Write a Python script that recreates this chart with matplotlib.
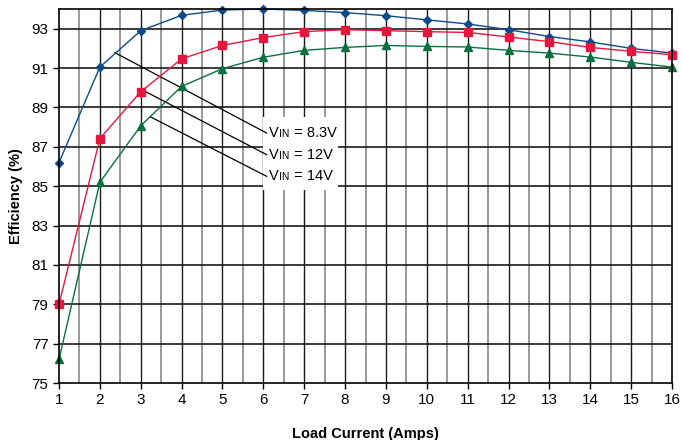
import numpy as np
from matplotlib import pyplot as plt
from matplotlib.patches import Rectangle
from matplotlib.offsetbox import TextArea, HPacker, AnnotationBbox

plt.rcParams['font.family'] = ['Liberation Sans Narrow', 'Liberation Sans', 'DejaVu Sans']

load_current = np.arange(1, 17)
eff_8v3 = [86.2, 91.05, 92.9, 93.68, 93.95, 94.0, 93.93, 93.82, 93.66, 93.45,
           93.24, 92.95, 92.6, 92.33, 92.0, 91.76]
eff_12v = [79.0, 87.42, 89.8, 91.47, 92.15, 92.55, 92.85, 92.95, 92.9, 92.85,
           92.81, 92.58, 92.34, 92.05, 91.85, 91.68]
eff_14v = [76.2, 85.2, 88.07, 90.07, 90.97, 91.55, 91.9, 92.05, 92.15, 92.1,
           92.07, 91.9, 91.76, 91.56, 91.29, 91.05]

series = [
    (eff_8v3, '#0d4a8a', 'D', 4.5, '8.3V'),
    (eff_12v, '#e5173f', 's', 5.5, '12V'),
    (eff_14v, '#0b7040', '^', 6, '14V'),
]

# leader lines: start on the curve, end at the label
leader_start = [(2.37, 91.78), (3.03, 89.9), (3.23, 88.53)]
leader_end = [(6.08, 87.7), (6.08, 86.6), (6.08, 85.5)]

fig = plt.figure(figsize=(6.83, 4.40), dpi=100)
ax = fig.add_axes([0.0864, 0.1295, 0.8976, 0.85])

# grid
for xv in np.arange(1.5, 16, 1.0):
    ax.axvline(xv, color='#9a9a9a', lw=1.4, zorder=1)
for xv in np.arange(2, 16):
    ax.axvline(xv, color='#1a1a1a', lw=1.0, zorder=1)
for yv in np.arange(77, 94, 2):
    ax.axhline(yv, color='#1a1a1a', lw=1.2, zorder=1)

for vals, col, mk, ms, name in series:
    ax.plot(load_current, vals, color=col, lw=1.0, marker=mk, ms=ms,
            zorder=3, clip_on=False)

# white patch behind the labels
ax.add_patch(Rectangle((5.99, 84.8), 1.84, 3.7, facecolor='white',
                       edgecolor='none', zorder=1.5))

for (x0, y0), (x1, y1) in zip(leader_start, leader_end):
    ax.plot([x0, x1], [y0, y1], color='black', lw=0.9, zorder=2)

for (x1, y1), (_, _, _, _, name) in zip(leader_end, series):
    parts = [TextArea('V', textprops=dict(size=10.5)),
             TextArea('IN', textprops=dict(size=7.5)),
             TextArea(' = ' + name, textprops=dict(size=10.5))]
    box = HPacker(children=parts, align='baseline', pad=0, sep=0)
    ab = AnnotationBbox(box, (x1, y1), xybox=(2, 0), boxcoords='offset points',
                        box_alignment=(0, 0.5), frameon=False, zorder=4)
    ax.add_artist(ab)

ax.set_xlim(1, 16)
ax.set_ylim(75, 94)
ax.set_xticks(range(1, 17))
ax.set_yticks(range(75, 94, 2))
ax.tick_params(labelsize=11, length=4, width=1, direction='out')
for sp in ax.spines.values():
    sp.set_linewidth(1.2)
    sp.set_zorder(5)

ax.set_xlabel('Load Current (Amps)', fontsize=10.5, fontweight='bold', labelpad=14)
ax.set_ylabel('Efficiency (%)', fontsize=10.5, fontweight='bold', labelpad=6)

fig.savefig('out.png', dpi=100)
